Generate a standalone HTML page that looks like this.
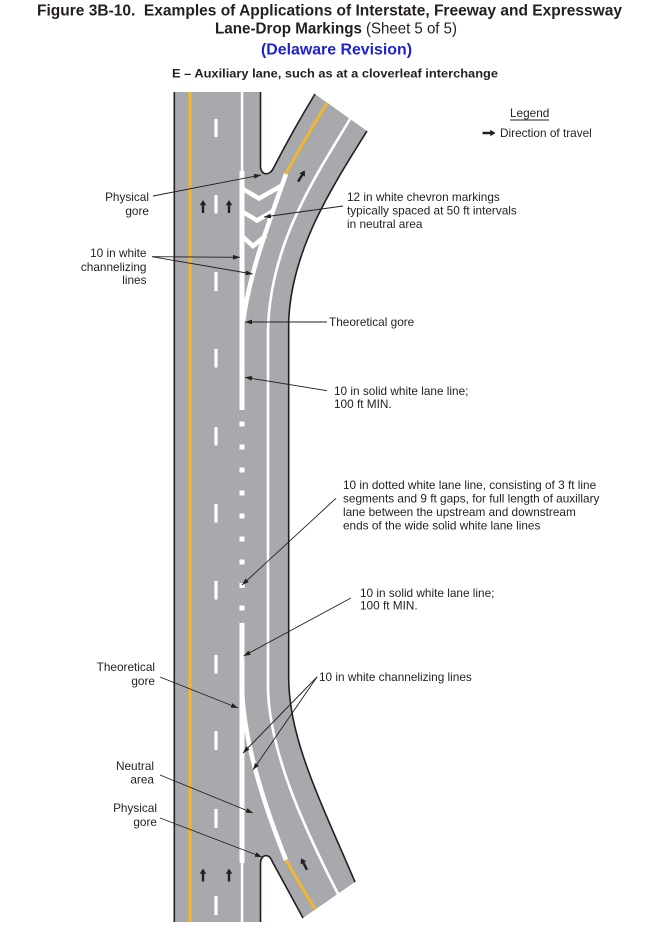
<!DOCTYPE html>
<html>
<head>
<meta charset="utf-8">
<style>
  html,body{margin:0;padding:0;background:#fff;}
  svg{display:block;}
  .t{font-family:"Liberation Sans",Arial,sans-serif;fill:#231f20;}
  .lb{font-family:"Liberation Sans",Arial,sans-serif;font-size:11.8px;fill:#231f20;}
</style>
</head>
<body>
<svg width="672" height="928" viewBox="0 0 672 928" xmlns="http://www.w3.org/2000/svg">
  <defs>
    <marker id="ah" markerWidth="8" markerHeight="6" refX="7" refY="3" orient="auto" markerUnits="userSpaceOnUse">
      <path d="M0,0.6 L7,3 L0,5.4 z" fill="#231f20"/>
    </marker>
    <path id="arr" d="M0,-6.5 L3.2,-1.3 L1.2,-1.3 L1.2,6.5 L-1.2,6.5 L-1.2,-1.3 L-3.2,-1.3 Z" fill="#231f20"/>
  </defs>

  <!-- Titles -->
  <text class="t" x="37" y="15.5" font-size="16" font-weight="bold" textLength="585" lengthAdjust="spacingAndGlyphs">Figure 3B-10.&#160; Examples of Applications of Interstate, Freeway and Expressway</text>
  <text class="t" y="33.5" font-size="16"><tspan x="215" font-weight="bold" textLength="147" lengthAdjust="spacingAndGlyphs">Lane-Drop Markings</tspan><tspan x="366" textLength="91" lengthAdjust="spacingAndGlyphs">(Sheet 5 of 5)</tspan></text>
  <text x="261" y="54.5" font-size="16" font-weight="bold" fill="#1e22d0" font-family="Liberation Sans, Arial, sans-serif" textLength="151" lengthAdjust="spacingAndGlyphs">(Delaware Revision)</text>
  <text class="t" x="172" y="77.5" font-size="12" font-weight="bold" textLength="326" lengthAdjust="spacingAndGlyphs">E – Auxiliary lane, such as at a cloverleaf interchange</text>

  <!-- Road surface -->
  <path d="M174,92 L260.5,92 L260.5,166 C260.5,176 270,176 273.5,168 Q292,132 315,94 L367,131 C330,190 292,250 288.7,320 L288.7,680 C289.5,740 320,800 355,882 L303,918 L272,861 C269,853 261,854 260.5,863 L260.5,922 L174,922 Z" fill="#a7a9ac"/>

  <!-- Edges -->
  <g fill="none" stroke="#231f20" stroke-width="1.6">
    <path d="M174.3,92 V922"/>
    <path d="M260.5,92 V166 C260.5,176 270,176 273.5,168 Q292,132 315,94"/>
    <path d="M367,131 C330,190 292,250 288.7,320 V680 C289.5,740 320,800 355,882"/>
    <path d="M303,918 L272,861 C269,853 261,854 260.5,863 V922"/>
  </g>

  <!-- Yellow edge line main -->
  <line x1="190" y1="92" x2="190" y2="922" stroke="#f3b62f" stroke-width="3.2"/>

  <!-- Lane dashes -->
  <g fill="#fff">
    <rect x="214.4" y="119" width="3.2" height="18"/>
    <rect x="214.4" y="195" width="3.2" height="18.5"/>
    <rect x="214.4" y="272" width="3.2" height="19"/>
    <rect x="214.4" y="349" width="3.2" height="18.5"/>
    <rect x="214.4" y="427" width="3.2" height="18.5"/>
    <rect x="214.4" y="504" width="3.2" height="18.5"/>
    <rect x="214.4" y="581" width="3.2" height="18.5"/>
    <rect x="214.4" y="655" width="3.2" height="18.5"/>
    <rect x="214.4" y="731" width="3.2" height="19"/>
    <rect x="214.4" y="809" width="3.2" height="19"/>
    <rect x="214.4" y="896" width="3.2" height="19"/>
  </g>

  <!-- Lane line (left of aux lane) -->
  <g fill="#fff">
    <rect x="240.8" y="92" width="2.5" height="80"/>
    <rect x="239.5" y="171" width="5" height="239"/>
    <rect x="239.5" y="421.5" width="5" height="5"/>
    <rect x="239.5" y="444.5" width="5" height="5"/>
    <rect x="239.5" y="467.5" width="5" height="5"/>
    <rect x="239.5" y="490.5" width="5" height="5"/>
    <rect x="239.5" y="513.5" width="5" height="5"/>
    <rect x="239.5" y="536.5" width="5" height="5"/>
    <rect x="239.5" y="559.5" width="5" height="5"/>
    <rect x="239.5" y="583" width="5" height="5"/>
    <rect x="239.5" y="605.5" width="5" height="5"/>
    <rect x="239.5" y="623" width="5" height="240"/>
    <rect x="240.8" y="862" width="2.5" height="60"/>
  </g>

  <!-- Ramp markings -->
  <g fill="none" stroke-linecap="butt">
    <path d="M285.5,174 Q306,137 327.2,102.7" stroke="#f3b62f" stroke-width="3"/>
    <path d="M350,119 C320,170 270,240 268,330 V690 C270,750 300,820 338,894" stroke="#fff" stroke-width="2.6"/>
    <path d="M286,174 C270,220 250,270 243,322" stroke="#fff" stroke-width="4.5"/>
    <path d="M242,690 C244,740 262,800 286,860" stroke="#fff" stroke-width="4.5"/>
    <path d="M286,860 Q300,884 315.3,909.5" stroke="#f3b62f" stroke-width="3"/>
  </g>

  <!-- Chevrons -->
  <g fill="none" stroke="#fff" stroke-width="4.5" stroke-linejoin="miter">
    <path d="M243,189 L259,198.5 L281,186"/>
    <path d="M243,212 L257,220.5 L274,210.5"/>
    <path d="M243,237 L253,246 L266,235.5"/>
  </g>

  <!-- Direction arrows -->
  <use href="#arr" x="203" y="206.5"/>
  <use href="#arr" x="229" y="206.5"/>
  <use href="#arr" x="203" y="875"/>
  <use href="#arr" x="229" y="875"/>
  <use href="#arr" transform="translate(301.5,176) rotate(31)"/>
  <use href="#arr" transform="translate(304,864) rotate(-27)"/>
  <use href="#arr" transform="translate(489,133) rotate(90)"/>

  <!-- Leader lines -->
  <g stroke="#231f20" stroke-width="0.9" fill="none" marker-end="url(#ah)">
    <line x1="153" y1="196" x2="261" y2="175"/>
    <line x1="343" y1="206" x2="264" y2="217"/>
    <line x1="152" y1="256.7" x2="240" y2="257.3"/>
    <line x1="152" y1="256.7" x2="252.7" y2="274"/>
    <line x1="327" y1="322" x2="245" y2="322"/>
    <line x1="327" y1="390.7" x2="245" y2="377.3"/>
    <line x1="336" y1="498.3" x2="242" y2="585"/>
    <line x1="351" y1="598" x2="243.5" y2="656"/>
    <line x1="160" y1="677" x2="238" y2="708"/>
    <line x1="317" y1="677" x2="243" y2="753"/>
    <line x1="317" y1="677" x2="253" y2="770"/>
    <line x1="160" y1="775" x2="253" y2="813"/>
    <line x1="160" y1="818" x2="262" y2="857"/>
  </g>

  <!-- Legend -->
  <text class="lb" x="510" y="117">Legend</text>
  <line x1="510" y1="120" x2="549" y2="120" stroke="#231f20" stroke-width="1"/>
  <text class="lb" x="500" y="137">Direction of travel</text>

  <!-- Labels -->
  <g class="lb">
    <text x="149" y="201" text-anchor="end">Physical</text>
    <text x="149" y="215" text-anchor="end">gore</text>

    <text x="347" y="201">12 in white chevron markings</text>
    <text x="347" y="214.5">typically spaced at 50 ft intervals</text>
    <text x="347" y="228">in neutral area</text>

    <text x="146.5" y="257" text-anchor="end">10 in white</text>
    <text x="146.5" y="271" text-anchor="end">channelizing</text>
    <text x="146.5" y="284" text-anchor="end">lines</text>

    <text x="329" y="326">Theoretical gore</text>

    <text x="334" y="395">10 in solid white lane line;</text>
    <text x="334" y="408">100 ft MIN.</text>

    <text x="343" y="489">10 in dotted white lane line, consisting of 3 ft line</text>
    <text x="343" y="502.5">segments and 9 ft gaps, for full length of auxillary</text>
    <text x="343" y="516">lane between the upstream and downstream</text>
    <text x="343" y="529.5">ends of the wide solid white lane lines</text>

    <text x="360" y="597">10 in solid white lane line;</text>
    <text x="360" y="609.5">100 ft MIN.</text>

    <text x="155" y="671" text-anchor="end">Theoretical</text>
    <text x="155" y="685" text-anchor="end">gore</text>

    <text x="319" y="681">10 in white channelizing lines</text>

    <text x="154" y="770" text-anchor="end">Neutral</text>
    <text x="154" y="783.5" text-anchor="end">area</text>

    <text x="157" y="812" text-anchor="end">Physical</text>
    <text x="157" y="826" text-anchor="end">gore</text>
  </g>
</svg>
</body>
</html>
